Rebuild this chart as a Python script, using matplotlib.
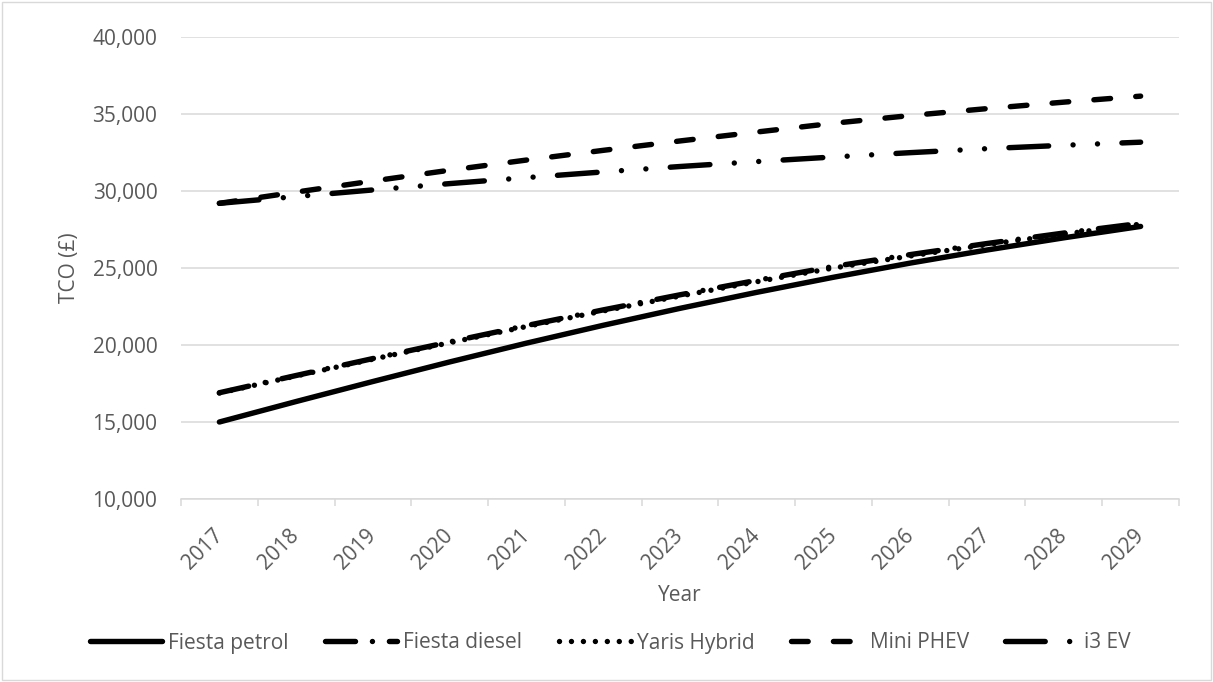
import matplotlib
matplotlib.use("Agg")
import matplotlib.pyplot as plt
from matplotlib.patches import Rectangle
from matplotlib.ticker import FuncFormatter

# Data
years = [2017, 2018, 2019, 2020, 2021, 2022, 2023, 2024, 2025, 2026, 2027, 2028, 2029]
fiesta_petrol = [15000, 16330, 17630, 18900, 20120, 21280, 22380, 23420, 24400, 25320, 26170, 26960, 27700]
fiesta_diesel = [16900, 18020, 19120, 20200, 21260, 22280, 23260, 24200, 25100, 25870, 26590, 27270, 27900]
yaris_hybrid = [16880, 17990, 19080, 20150, 21200, 22210, 23180, 24110, 25000, 25780, 26520, 27200, 27850]
mini_phev = [29200, 29930, 30650, 31350, 32010, 32640, 33250, 33830, 34400, 34900, 35350, 35770, 36160]
i3_ev = [29200, 29640, 30070, 30480, 30870, 31240, 31590, 31910, 32210, 32490, 32750, 32970, 33170]

series = [
    ("Fiesta petrol", fiesta_petrol, "-"),
    ("Fiesta diesel", fiesta_diesel, (0, (21.6, 12.2, 0.01, 12.2))),
    ("Yaris Hybrid", yaris_hybrid, (0, (0.01, 8.6))),
    ("Mini PHEV", mini_phev, (0, (12, 18.2))),
    ("i3 EV", i3_ev, (0, (28.6, 17.6, 0.01, 17.6, 0.01, 17.6))),
]

grey_text = "#595959"
grey_line = "#d9d9d9"

plt.rcParams["font.family"] = ["Open Sans", "DejaVu Sans"]
plt.rcParams["font.size"] = 15
plt.rcParams["lines.scale_dashes"] = False

fig = plt.figure(figsize=(12.13, 6.82), dpi=100)
ax = fig.add_axes([181 / 1213, 1 - 499 / 682, 998 / 1213, 462 / 682])

x = list(range(len(years)))
for name, vals, ls in series:
    ax.plot(x, vals, color="black", lw=3.9, linestyle=ls, label=name,
            dash_capstyle="round", solid_capstyle="round")

# y axis
ax.set_ylim(10000, 40000)
ax.set_yticks(range(10000, 40001, 5000))
ax.yaxis.set_major_formatter(FuncFormatter(lambda v, p: f"{int(v):,}"))
ax.yaxis.grid(True, color=grey_line, lw=1.1)
ax.set_axisbelow(True)
ax.tick_params(axis="y", length=0, pad=17, colors=grey_text)

# x axis: ticks between categories, labels at the centres
ax.set_xlim(-0.5, len(years) - 0.5)
ax.set_xticks([i - 0.5 for i in range(len(years) + 1)])
ax.set_xticklabels([])
ax.set_xticks(x, minor=True)
ax.set_xticklabels([str(y) for y in years], minor=True, rotation=45,
                   ha="right", va="center", rotation_mode="anchor")
ax.tick_params(axis="x", which="major", length=5, width=1.1, color=grey_line)
ax.tick_params(axis="x", which="minor", length=0, pad=24, colors=grey_text)

for side in ["top", "right", "left"]:
    ax.spines[side].set_visible(False)
ax.spines["bottom"].set_color(grey_line)
ax.spines["bottom"].set_linewidth(1.1)

ax.set_ylabel("TCO (£)", color=grey_text)
ax.yaxis.set_label_coords(-0.101, 0.5)
ax.set_xlabel("Year", color=grey_text)
ax.xaxis.set_label_coords(0.5, -0.186)

fig.legend(loc="center", bbox_to_anchor=(610 / 1213, 1 - 643 / 682), ncol=5,
           frameon=False, handlelength=3.46, handletextpad=0.3,
           columnspacing=1.75, labelcolor=grey_text)

# chart area border
fig.patches.append(Rectangle((0.002, 0.003), 0.996, 0.994, transform=fig.transFigure,
                             fill=False, edgecolor=grey_line, lw=1.0))

fig.savefig("out.png", dpi=100)
